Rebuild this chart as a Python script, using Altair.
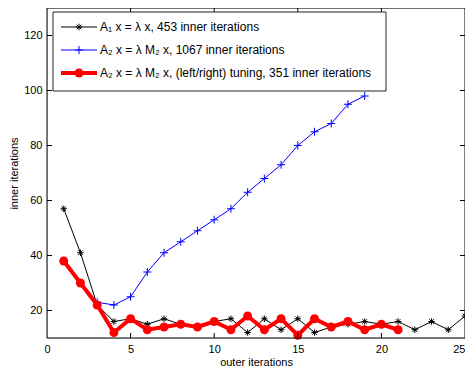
import altair as alt
import pandas as pd

# ---- data ----
outer_a1 = list(range(1, 26))
inner_a1 = [57, 41, 22, 16, 17, 15, 17, 15, 14, 16, 17, 12, 17, 13, 17, 12, 14, 15, 16, 15, 16, 13, 16, 13, 18]
outer_a2 = list(range(1, 20))
inner_a2 = [38, 30, 23, 22, 25, 34, 41, 45, 49, 53, 57, 63, 68, 73, 80, 85, 88, 95, 98]
outer_tuned = list(range(1, 22))
inner_tuned = [38, 30, 22, 12, 17, 13, 14, 15, 14, 16, 13, 18, 13, 17, 11, 17, 14, 16, 13, 15, 13]
legend_labels = [
    "A\u2081 x = \u03bb x, 453 inner iterations",
    "A\u2082 x = \u03bb M\u2082 x, 1067 inner iterations",
    "A\u2082 x = \u03bb M\u2082 x, (left/right) tuning, 351 inner iterations",
]
x_ticks = [0, 5, 10, 15, 20, 25]
y_ticks = [20, 40, 60, 80, 100, 120]

W, H = 418, 330
FONT = "Liberation Sans"
ASTERISK = "M-1,0L1,0M0,-1L0,1M-0.7,-0.7L0.7,0.7M-0.7,0.7L0.7,-0.7"
PLUS = "M-1,0L1,0M0,-1L0,1"

xs = alt.Scale(domain=[0, 25], nice=False, zero=False)
ys = alt.Scale(domain=[10, 130], nice=False, zero=False)

df1 = pd.DataFrame({"x": outer_a1, "y": inner_a1})
df2 = pd.DataFrame({"x": outer_a2, "y": inner_a2})
df3 = pd.DataFrame({"x": outer_tuned, "y": inner_tuned})

xaxis = alt.Axis(values=x_ticks, tickSize=0, domain=False, grid=False, labelPadding=5,
                 labelFlush=False,
                 labelAlign=alt.expr(f"datum.value >= {x_ticks[-1]} ? 'right' : 'center'"),
                 labelFontSize=11, labelFont=FONT, labelColor="black",
                 title="outer iterations", titleFont=FONT, titleFontSize=11,
                 titleFontWeight="normal", titleColor="black", titlePadding=2)
yaxis = alt.Axis(values=y_ticks, tickSize=0, domain=False, grid=False, labelPadding=5,
                 labelFlush=False, labelFontSize=11, labelFont=FONT, labelColor="black",
                 title="inner iterations", titleFont=FONT, titleFontSize=11,
                 titleFontWeight="normal", titleColor="black", titlePadding=4)

X = alt.X("x:Q", scale=xs, axis=xaxis, title="outer iterations")
Y = alt.Y("y:Q", scale=ys, axis=yaxis, title="inner iterations")

black_line = alt.Chart(df1).mark_line(color="black", strokeWidth=1).encode(x=X, y=Y)
black_pts = alt.Chart(df1).mark_point(shape=ASTERISK, color="black", size=42, strokeWidth=1,
                                      filled=False, opacity=1).encode(x=X, y=Y)
blue_line = alt.Chart(df2).mark_line(color="#0000ff", strokeWidth=1).encode(x=X, y=Y)
blue_pts = alt.Chart(df2).mark_point(shape=PLUS, color="#0000ff", size=64, strokeWidth=1,
                                     filled=False, opacity=1).encode(x=X, y=Y)
red_line = alt.Chart(df3).mark_line(color="#ff0000", strokeWidth=4).encode(x=X, y=Y)
red_pts = alt.Chart(df3).mark_point(shape="circle", color="#ff0000", size=80, filled=True,
                                    opacity=1).encode(x=X, y=Y)

# inward ticks on all four sides
ydf = pd.DataFrame({"y": y_ticks})
xdf = pd.DataFrame({"x": x_ticks[1:-1]})
tick_style = dict(color="black", strokeWidth=1)
ticks = [
    alt.Chart(ydf).mark_rule(**tick_style).encode(y=Y, x=alt.value(0), x2=alt.value(5)),
    alt.Chart(ydf).mark_rule(**tick_style).encode(y=Y, x=alt.value(W - 5), x2=alt.value(W)),
    alt.Chart(xdf).mark_rule(**tick_style).encode(x=X, y=alt.value(H - 5), y2=alt.value(H)),
    alt.Chart(xdf).mark_rule(**tick_style).encode(x=X, y=alt.value(0), y2=alt.value(5)),
]

one = pd.DataFrame({"a": [0]})
frame = alt.Chart(one).mark_rect(fillOpacity=0, stroke="black", strokeWidth=1).encode(
    x=alt.value(0), x2=alt.value(W), y=alt.value(0), y2=alt.value(H))

# legend box
legend = [alt.Chart(one).mark_rect(fill="white", stroke="#222222", strokeWidth=1).encode(
    x=alt.value(6), x2=alt.value(339), y=alt.value(4), y2=alt.value(83))]
rows_y = [19, 42, 65]
styles = [
    dict(color="black", width=1, shape=ASTERISK, size=42, filled=False),
    dict(color="#0000ff", width=1, shape=PLUS, size=64, filled=False),
    dict(color="#ff0000", width=4, shape="circle", size=80, filled=True),
]
for lab, ry, st in zip(legend_labels, rows_y, styles):
    legend.append(alt.Chart(one).mark_rule(color=st["color"], strokeWidth=st["width"]).encode(
        x=alt.value(14), x2=alt.value(50), y=alt.value(ry)))
    legend.append(alt.Chart(one).mark_point(shape=st["shape"], color=st["color"], size=st["size"],
                                            filled=st["filled"], opacity=1, strokeWidth=1).encode(
        x=alt.value(32), y=alt.value(ry)))
    legend.append(alt.Chart(one).mark_text(text=lab, align="left", baseline="middle", font=FONT,
                                           fontSize=12, color="black").encode(
        x=alt.value(53), y=alt.value(ry)))

chart = alt.layer(black_line, black_pts, blue_line, blue_pts, red_line, red_pts,
                  *ticks, frame, *legend).properties(
    width=W, height=H,
    autosize=alt.AutoSizeParams(type="none"),
    padding={"left": 39, "top": 0, "right": 0, "bottom": 30},
).configure_view(stroke=None).configure(background="white")

chart.save("out.html", embed_options={"renderer": "svg", "actions": False})
